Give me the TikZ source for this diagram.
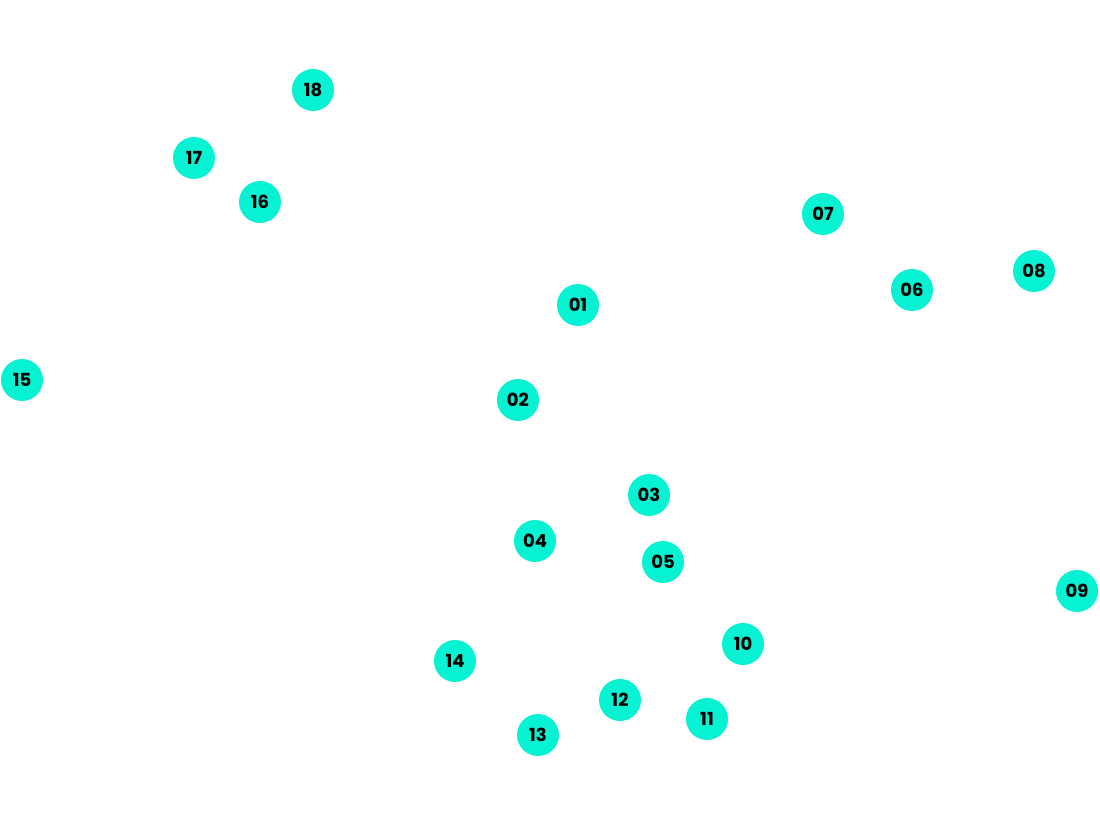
\documentclass[tikz,border=0pt]{standalone}
\usepackage{fontspec}
\setmainfont{Poppins}
\definecolor{dotc}{RGB}{6,242,210}
\begin{document}
\begin{tikzpicture}[x=1pt,y=-1pt,
  dot/.style={circle,fill=dotc,minimum size=42pt,inner sep=0pt,font=\fontsize{18}{18}\selectfont\bfseries,text=black}]
\useasboundingbox (0,0) rectangle (1100,818);
\node[dot] (n18) at (313,90) {18};
\node[dot] (n17) at (194,158) {17};
\node[dot] (n16) at (260,202) {16};
\node[dot] (n07) at (823,214) {07};
\node[dot] (n08) at (1034,271) {08};
\node[dot] (n06) at (912,290) {06};
\node[dot] (n01) at (578,305) {01};
\node[dot] (n15) at (22,380) {15};
\node[dot] (n02) at (518,400) {02};
\node[dot] (n03) at (649,495) {03};
\node[dot] (n04) at (535,541) {04};
\node[dot] (n05) at (663,562) {05};
\node[dot] (n09) at (1077,591) {09};
\node[dot] (n10) at (743,644) {10};
\node[dot] (n14) at (455,661) {14};
\node[dot] (n12) at (620,700) {12};
\node[dot] (n11) at (707,719) {11};
\node[dot] (n13) at (538,735) {13};
\end{tikzpicture}
\end{document}
